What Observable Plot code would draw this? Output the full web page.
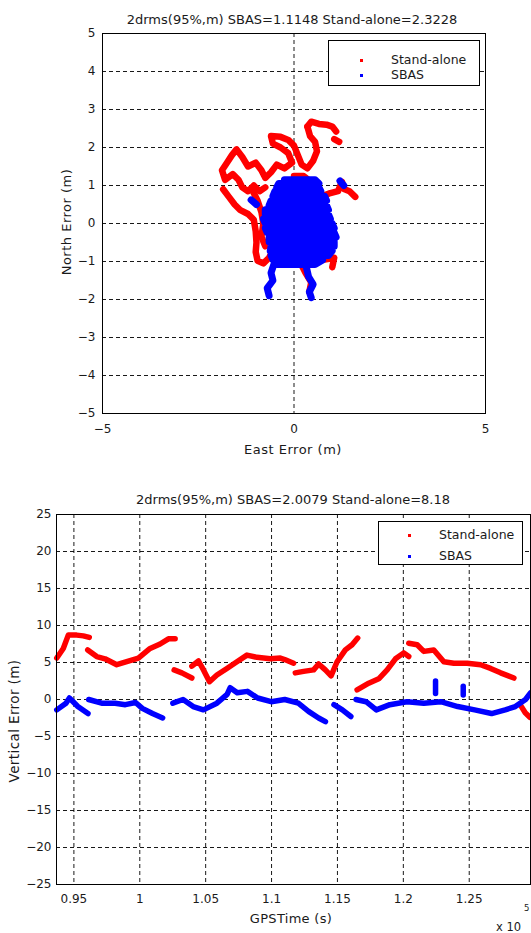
<!DOCTYPE html>
<html><head><meta charset="utf-8">
<script src="https://cdn.jsdelivr.net/npm/d3@7"></script>
<script src="https://cdn.jsdelivr.net/npm/@observablehq/plot@0.6"></script>
<style>
body{margin:0;background:#fff;font-family:"DejaVu Sans",sans-serif;}
#wrap{position:relative;width:531px;height:933px;overflow:hidden;background:#fff;}
#wrap svg{position:absolute;left:0;}
.t{position:absolute;white-space:nowrap;color:#1a1a1a;font-family:"DejaVu Sans",sans-serif;line-height:1;}
.c{transform:translate(-50%,-50%);}
.r{transform:translate(-50%,-50%) rotate(-90deg);}
.legend{position:absolute;border:1px solid #000;background:#fff;box-sizing:border-box;}
.legend .m{position:absolute;width:3px;height:3px;}
.legend .lt{position:absolute;font-size:12.5px;transform:translateY(-50%);white-space:nowrap;color:#1a1a1a;line-height:1;}
</style></head><body><div id="wrap"></div>
<script>
// ---------- texts ----------
const titleTop = "2drms(95%,m) SBAS=1.1148 Stand-alone=2.3228";
const titleBottom = "2drms(95%,m) SBAS=2.0079 Stand-alone=8.18";
const seriesNames = ["Stand-alone", "SBAS"];
const seriesColors = ["#ff0000", "#0000ff"];

// ---------- Horizontal plot (East / North error, m) ----------
const eastTicks = [-5, 0, 5];
const northTicks = [-5, -4, -3, -2, -1, 0, 1, 2, 3, 4, 5];

// Stand-alone horizontal track: points per track piece, east, north
const saPieces = [6, 2, 36, 13, 8, 4, 4, 6, 4];
const saEast = [0.35,0.45,0.65,0.85,1.0,1.1,
  1.05,1.18,
  0.35,0.42,0.55,0.6,0.5,0.35,0.2,0.1,0.0,-0.15,-0.35,-0.6,-0.55,-0.35,-0.15,-0.05,-0.25,-0.45,-0.6,-0.75,-0.85,-1.0,-1.2,-1.35,-1.5,-1.62,-1.75,-1.88,-1.8,-1.6,-1.45,-1.35,-1.2,-1.05,-0.9,-0.75,
  -1.85,-1.7,-1.55,-1.4,-1.2,-1.05,-1.0,-0.98,-1.0,-0.95,-0.8,-0.65,-0.55,
  0.55,0.75,0.95,1.15,1.25,1.32,1.45,1.6,
  0.55,0.8,1.05,1.0,
  0.15,0.3,0.45,0.4,
  -1.1,-0.95,-0.85,-0.8,-0.85,-0.75,
  0.0,0.25,0.5,0.65];
const saNorth = [2.55,2.68,2.62,2.6,2.55,2.42,
  2.22,2.15,
  2.55,2.3,2.15,1.9,1.65,1.45,1.55,1.8,2.05,2.2,2.28,2.3,2.1,2.0,1.85,1.6,1.45,1.55,1.35,1.2,1.4,1.6,1.5,1.75,1.95,1.8,1.6,1.4,1.15,1.3,1.15,0.95,0.85,1.0,0.85,0.95,
  0.9,0.7,0.5,0.35,0.25,0.1,-0.2,-0.5,-0.75,-0.98,-1.05,-0.9,-0.7,
  0.45,0.72,0.8,0.85,1.1,0.9,0.85,0.7,
  -0.85,-0.95,-0.9,-1.15,
  -1.0,-1.3,-1.55,-1.8,
  0.9,0.6,0.3,0.0,-0.35,-0.6,
  1.25,1.25,1.05,0.8];

// SBAS horizontal track: points per track piece, east, north
const sbPieces = [40, 5, 5, 2, 2, 2];
const sbEast = [-0.25,0.55, 0.65,-0.4, -0.45,0.65, 0.7,-0.5, -0.55,0.8, 0.85,-0.6, -0.65,0.85, 0.9,-0.75,
  -0.75,0.9, 0.95,-0.8, -0.75,1.0, 1.05,-0.75, -0.7,1.05, 1.1,-0.65, -0.65,1.05, 1.05,-0.6,
  -0.62,1.0, 0.9,-0.6, -0.55,0.75, 0.55,-0.45,
  -0.5,-0.6,-0.55,-0.7,-0.65,
  0.3,0.38,0.5,0.4,0.45,
  -1.12,-0.98, -0.72,-0.65, 1.2,1.3];
const sbNorth = [1.15,1.15, 1.05,1.05, 0.95,0.95, 0.85,0.85, 0.72,0.72, 0.6,0.6, 0.48,0.48, 0.36,0.36,
  0.24,0.24, 0.12,0.12, 0.0,0.0, -0.12,-0.12, -0.24,-0.24, -0.36,-0.36, -0.48,-0.48, -0.6,-0.6,
  -0.72,-0.72, -0.84,-0.84, -0.96,-0.96, -1.08,-1.08,
  -1.0,-1.3,-1.5,-1.7,-1.9,
  -1.05,-1.4,-1.6,-1.8,-1.95,
  0.62,0.5, 0.35,0.3, 1.12,1.0];

// ---------- Vertical plot (GPS time s, vertical error m) ----------
const timeTicks = [95000, 100000, 105000, 110000, 115000, 120000, 125000];
const timeTickLabels = ["0.95", "1", "1.05", "1.1", "1.15", "1.2", "1.25"];
const vertTicks = [-25, -20, -15, -10, -5, 0, 5, 10, 15, 20, 25];

const saVPieces = [6, 10, 3, 13, 10, 7, 11, 3];
const saVTime = [93700,94194,94574,95213,95714,96170,
  96049,96733,97364,98253,99134,99894,100783,101543,102174,102683,
  102607,103192,103952,
  103952,104454,104834,105290,105852,106612,107372,108132,108892,109903,110663,111000,111674,
  111800,112433,113193,113573,114081,114515,114971,115601,116111,116537,
  116491,117373,118133,118771,119403,120032,120412,
  120412,121051,121552,122312,123072,123832,124849,125862,126622,127381,128392,
  128900,129250,129600];
const saVErr = [5.6,6.9,8.7,8.7,8.6,8.4,
  6.7,5.8,5.5,4.7,5.2,5.6,6.9,7.5,8.2,8.2,
  4.0,3.6,2.9,
  4.5,5.2,4.0,2.4,3.3,4.2,5.1,6.0,5.7,5.5,5.6,5.4,4.9,
  3.6,3.8,4.0,4.8,4.0,3.2,5.1,6.7,7.4,8.3,
  1.3,2.2,2.8,4.0,5.5,6.3,5.8,
  7.6,7.4,6.5,6.7,5.1,4.9,4.9,4.7,4.2,3.6,2.9,
  -0.8,-1.8,-2.4];

const sbVPieces = [5, 8, 16, 3, 14, 2, 2];
const sbVTime = [93700,94400,94658,95300,96070,
  96125,97105,98131,98906,99681,100190,100966,101734,
  102508,103283,104051,104826,105852,106627,106860,107395,108170,108945,109971,111004,112030,112805,113573,114089,
  114735,115373,116019,
  116407,117174,117950,118976,120267,121552,122836,124128,125412,126697,127730,128498,129273,129650,
  122444,122444,
  124545,124545];
const sbVErr = [-1.4,-0.5,0.2,-0.95,-1.9,
  0,-0.5,-0.5,-0.7,-0.4,-1.2,-1.9,-2.5,
  -0.5,0,-0.95,-1.4,-0.5,0.7,1.6,0.9,1.1,0.2,-0.3,0,-0.5,-1.6,-2.5,-3.0,
  -0.7,-1.4,-2.3,
  0,-0.3,-1.4,-0.7,-0.3,-0.5,-0.3,-0.95,-1.4,-1.9,-1.4,-0.95,0,0.9,
  0.8,2.5,
  0.6,1.8];

// ---------- build tables ----------
const pieceIds = lens => lens.flatMap((n, k) => Array(n).fill(k));
function rows(lens, xs, ys) {
  const ids = pieceIds(lens);
  return xs.map((x, i) => ({s: ids[i], x, y: ys[i]}));
}
const saH = rows(saPieces, saEast, saNorth);
const sbH = rows(sbPieces, sbEast, sbNorth);
const saV = rows(saVPieces, saVTime, saVErr);
const sbV = rows(sbVPieces, sbVTime, sbVErr);

const gridStyle = {stroke: "#000", strokeOpacity: 0.9, strokeDasharray: "4,3", strokeWidth: 1};
const style = {fontFamily: "DejaVu Sans", fontSize: "12px", color: "#1a1a1a", background: "transparent", overflow: "visible"};
const lineOpts = (color, w) => ({x: "x", y: "y", z: "s", stroke: color, strokeWidth: w, strokeLinejoin: "round", strokeLinecap: "round"});

const p1 = Plot.plot({
  width: 531, height: 470,
  marginLeft: 102, marginRight: 46, marginTop: 33, marginBottom: 57,
  x: {domain: [-5, 5]},
  y: {domain: [-5, 5]},
  style,
  marks: [
    Plot.gridX([0], gridStyle),
    Plot.gridY(northTicks.filter(d => d > -5 && d < 5), gridStyle),
    Plot.line(saH, lineOpts(seriesColors[0], 6.5)),
    Plot.line(sbH, lineOpts(seriesColors[1], 7)),
    Plot.frame({stroke: "#000", strokeWidth: 1}),
    Plot.axisX(eastTicks, {anchor: "bottom", tickSize: 0, tickPadding: 11, label: null}),
    Plot.axisY(northTicks, {anchor: "left", tickSize: 0, tickPadding: 7, label: null})
  ]
});

const p2 = Plot.plot({
  width: 531, height: 463,
  marginLeft: 56, marginRight: 1, marginTop: 44, marginBottom: 49,
  x: {domain: [93680, 129650]},
  y: {domain: [-25, 25]},
  style,
  marks: [
    Plot.gridX(timeTicks, gridStyle),
    Plot.gridY(vertTicks.filter(d => d > -25 && d < 25), gridStyle),
    Plot.line(saV, lineOpts(seriesColors[0], 5.5)),
    Plot.line(sbV, lineOpts(seriesColors[1], 5.5)),
    Plot.frame({stroke: "#000", strokeWidth: 1}),
    Plot.axisX(timeTicks, {anchor: "bottom", tickSize: 0, tickPadding: 10, label: null, tickFormat: (d, i) => timeTickLabels[i]}),
    Plot.axisY(vertTicks, {anchor: "left", tickSize: 0, tickPadding: 5, label: null})
  ]
});

const wrap = document.getElementById("wrap");
p1.style.top = "0px";
p2.style.top = "470px";
wrap.appendChild(p1);
wrap.appendChild(p2);

function addText(txt, x, y, size, cls, extra) {
  const d = document.createElement("div");
  d.className = "t " + cls;
  d.textContent = txt;
  d.style.left = x + "px";
  d.style.top = y + "px";
  d.style.fontSize = size + "px";
  if (extra) Object.assign(d.style, extra);
  wrap.appendChild(d);
  return d;
}
addText(titleTop, 292, 19, 13, "c");
addText(titleBottom, 293, 499, 13, "c");
addText("East Error (m)", 293, 449, 13, "c", {letterSpacing: "0.5px"});
addText("North Error (m)", 66, 222, 13, "r", {letterSpacing: "0.5px"});
addText("GPSTime (s)", 291, 918, 13, "c", {letterSpacing: "0.3px"});
addText("Vertical Error (m)", 15, 721, 13.5, "r", {letterSpacing: "0.4px"});
addText("x 10", 496, 922, 11.5, "");
addText("5", 524, 904, 8.5, "");

function addLegend(left, top, w, h, mx, tx, rowsY) {
  const lg = document.createElement("div");
  lg.className = "legend";
  Object.assign(lg.style, {left: left + "px", top: top + "px", width: w + "px", height: h + "px"});
  seriesNames.forEach((name, i) => {
    const m = document.createElement("div");
    m.className = "m";
    Object.assign(m.style, {left: (mx - 1.5) + "px", top: (rowsY[i] - 1.5) + "px", background: seriesColors[i]});
    lg.appendChild(m);
    const t = document.createElement("div");
    t.className = "lt";
    t.textContent = name;
    Object.assign(t.style, {left: tx + "px", top: rowsY[i] + "px"});
    lg.appendChild(t);
  });
  wrap.appendChild(lg);
}
addLegend(328, 40, 152, 46, 32, 62, [19, 34]);
addLegend(378, 521, 145, 44, 30, 60, [13, 34]);
</script></body></html>
